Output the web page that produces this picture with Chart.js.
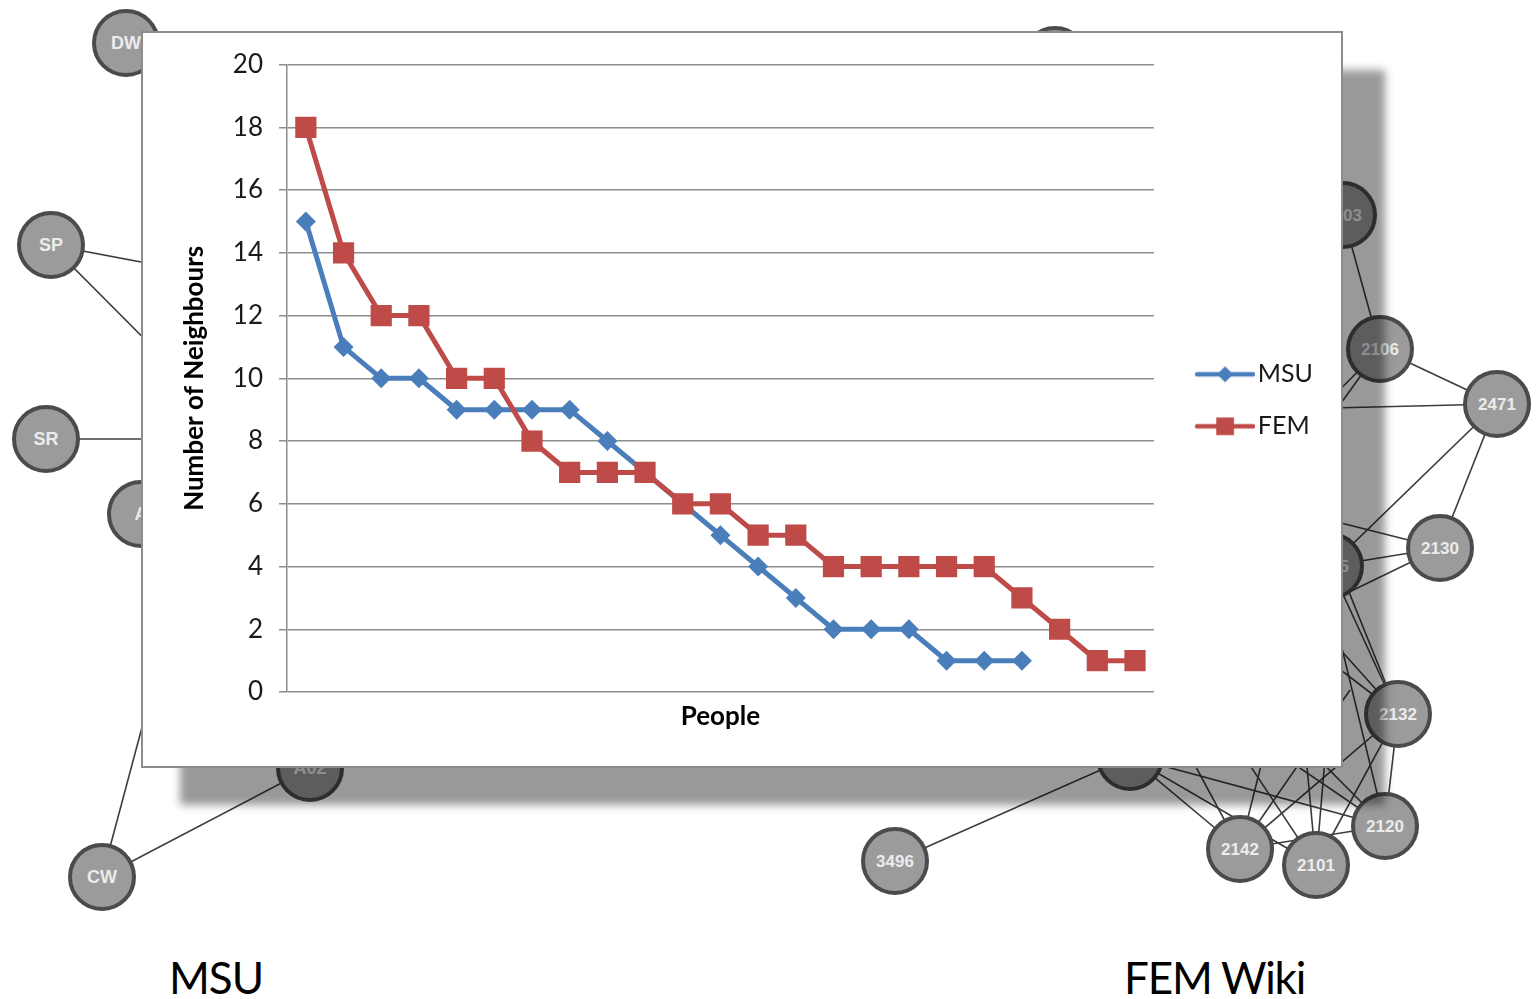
<!DOCTYPE html>
<html>
<head>
<meta charset="utf-8">
<script src="https://cdn.jsdelivr.net/npm/chart.js@4/dist/chart.umd.min.js"></script>
<style>
	html, body { margin: 0; padding: 0; background: #fff; }
	body { width: 1539px; height: 999px; position: relative; overflow: hidden; font-family: Lato, sans-serif; }
	#net { position: absolute; left: 0; top: 0; }
	#shadow { position: absolute; left: 180px; top: 70px; width: 1205px; height: 735px; background: rgba(0, 0, 0, 0.4); filter: blur(4px); }
	#panel { position: absolute; left: 141px; top: 31px; width: 1202px; height: 737px; box-sizing: border-box; border: 2px solid #8c8c8c; background: #fff; }
	#panel canvas { display: block; }
	.caption { position: absolute; font-family: Lato, sans-serif; font-size: 44px; color: #000; line-height: 1; }
</style>
</head>
<body>
<svg id="net" width="1539" height="999"></svg>
<div id="shadow"></div>
<div id="panel"><canvas id="chart" width="1198" height="733"></canvas></div>
<div class="caption" style="left:169px; top:955px; letter-spacing:-1px">MSU</div>
<div class="caption" style="left:1124px; top:955px; letter-spacing:-1.2px">FEM Wiki</div>
<script>
// chart data
const people = ["1", "2", "3", "4", "5", "6", "7", "8", "9", "10", "11", "12", "13", "14", "15", "16", "17", "18", "19", "20", "21", "22", "23"]
const msuNeighbours = [15, 11, 10, 10, 9, 9, 9, 9, 8, 7, 6, 5, 4, 3, 2, 2, 2, 1, 1, 1]
const femNeighbours = [18, 14, 12, 12, 10, 10, 8, 7, 7, 7, 6, 6, 5, 5, 4, 4, 4, 4, 4, 3, 2, 1, 1]
const yTicks = [0, 2, 4, 6, 8, 10, 12, 14, 16, 18, 20]

// the network picture behind the chart (decoration only)
const netNodes = [
	["DW", 126, 43], ["SP", 51, 245], ["SR", 46, 439], ["A", 141, 514], ["CW", 102, 877],
	["A02", 310, 768], ["", 1055, 60], ["2103", 1343, 215], ["2106", 1380, 349],
	["2471", 1497, 404], ["2105", 1330, 566], ["2130", 1440, 548], ["2132", 1398, 714],
	["2120", 1385, 826], ["2142", 1240, 849], ["2101", 1316, 865], ["3496", 895, 861], ["", 1130, 757]
]
const netEdges = [
	[51, 245, 300, 292], [51, 245, 250, 445], [46, 439, 300, 439], [102, 877, 160, 660], [102, 877, 310, 768],
	[895, 861, 1130, 757], [1343, 215, 1380, 349], [1380, 349, 1497, 404], [1380, 349, 1300, 460],
	[1497, 404, 1250, 410], [1497, 404, 1330, 566], [1497, 404, 1440, 548], [1440, 548, 1330, 566],
	[1440, 548, 1250, 500], [1440, 548, 1250, 640], [1330, 566, 1398, 714], [1398, 714, 1385, 826],
	[1398, 714, 1240, 849], [1398, 714, 1316, 865], [1398, 714, 1250, 600], [1385, 826, 1240, 849],
	[1385, 826, 1130, 757], [1385, 826, 1200, 700], [1316, 865, 1200, 690], [1316, 865, 1300, 690],
	[1316, 865, 1130, 757], [1240, 849, 1130, 757], [1240, 849, 1280, 690], [1240, 849, 1350, 690],
	[1385, 826, 1250, 690], [1398, 714, 1260, 560], [1398, 714, 1300, 470], [1240, 849, 1160, 700],
	[1316, 865, 1330, 700], [1385, 826, 1340, 640], [1380, 349, 1300, 430]
]

const svgNS = "http://www.w3.org/2000/svg"
let net = document.getElementById("net")
for(let e of netEdges) {
	let line = document.createElementNS(svgNS, "line")
	line.setAttribute("x1", e[0])
	line.setAttribute("y1", e[1])
	line.setAttribute("x2", e[2])
	line.setAttribute("y2", e[3])
	line.setAttribute("stroke", "#3c3c3c")
	line.setAttribute("stroke-width", "1.6")
	net.appendChild(line)
}
for(let n of netNodes) {
	let circle = document.createElementNS(svgNS, "circle")
	circle.setAttribute("cx", n[1])
	circle.setAttribute("cy", n[2])
	circle.setAttribute("r", 32)
	circle.setAttribute("fill", "#9b9b9b")
	circle.setAttribute("stroke", "#4b4b4b")
	circle.setAttribute("stroke-width", "4")
	net.appendChild(circle)
	let label = document.createElementNS(svgNS, "text")
	label.setAttribute("x", n[1])
	label.setAttribute("y", n[2] + 6)
	label.setAttribute("text-anchor", "middle")
	label.setAttribute("font-family", "Liberation Sans, Arial, sans-serif")
	label.setAttribute("font-weight", "bold")
	label.setAttribute("font-size", n[0].length > 3 ? "17" : "18")
	label.setAttribute("fill", "#ececec")
	label.textContent = n[0]
	net.appendChild(label)
}

const blue = "#4A7EBB"
const red = "#BE4B48"

// legend icon: a short line with the series marker on it
function legendIcon(color, style, radius) {
	let c = document.createElement("canvas")
	c.width = 84
	c.height = 26
	let ctx = c.getContext("2d")
	ctx.strokeStyle = color
	ctx.lineWidth = 4.5
	ctx.lineCap = "round"
	ctx.beginPath()
	ctx.moveTo(26, 13)
	ctx.lineTo(82, 13)
	ctx.stroke()
	ctx.fillStyle = color
	Chart.helpers.drawPoint(ctx, {pointStyle: style, radius: radius, borderWidth: 0}, 54, 13)
	return c
}
const icons = [legendIcon(blue, "rectRot", 8), legendIcon(red, "rect", 12.5)]

Chart.defaults.font.family = "Lato"
Chart.defaults.color = "#1a1a1a"

new Chart(document.getElementById("chart"), {
	type: "line",
	data: {
		labels: people,
		datasets: [{
			label: "MSU",
			data: msuNeighbours,
			borderColor: blue,
			backgroundColor: blue,
			borderWidth: 5,
			pointStyle: "rectRot",
			pointRadius: 10,
			pointBorderWidth: 0,
			tension: 0,
			order: 2
		}, {
			label: "FEM",
			data: femNeighbours,
			borderColor: red,
			backgroundColor: red,
			borderWidth: 5,
			pointStyle: "rect",
			pointRadius: 15,
			pointBorderWidth: 0,
			tension: 0,
			order: 1
		}]
	},
	options: {
		responsive: false,
		animation: false,
		events: [],
		layout: { padding: { top: 30, right: 18, left: 0, bottom: 0 } },
		scales: {
			x: {
				offset: true,
				grid: { display: false },
				border: { display: false },
				ticks: { display: false },
				title: { display: true, text: "People", color: "#000", font: { size: 26, weight: "bold" }, padding: { top: 0, bottom: 34 } },
				afterFit: (s) => { s.height = 74 }
			},
			y: {
				min: 0,
				max: 20,
				afterBuildTicks: (s) => { s.ticks = yTicks.map(v => ({ value: v })) },
				grid: { color: "#8c8c8c", lineWidth: 1.5, tickLength: 8, tickColor: "#8c8c8c" },
				border: { display: true, color: "#8c8c8c", width: 1.5 },
				ticks: { padding: 16, color: "#1a1a1a", font: { size: 26 } },
				title: { display: true, text: "Number of Neighbours", color: "#000", font: { size: 26, weight: "bold" }, padding: { top: 36, bottom: 0 } },
				afterFit: (s) => { s.width = 144 }
			}
		},
		plugins: {
			tooltip: { enabled: false },
			legend: {
				position: "right",
				fullSize: false,
				title: { display: true, text: " ", font: { size: 20 }, padding: 10 },
				labels: {
					usePointStyle: true,
					pointStyleWidth: 64.5,
					padding: 27,
					color: "#1a1a1a",
					font: { size: 25 },
					generateLabels: (chart) => chart.data.datasets.map((ds, i) => ({
						text: ds.label,
						pointStyle: icons[i],
						datasetIndex: i,
						hidden: false,
						lineWidth: 0,
						strokeStyle: "transparent",
						fillStyle: ds.borderColor
					}))
				}
			}
		}
	}
})
</script>
</body>
</html>
